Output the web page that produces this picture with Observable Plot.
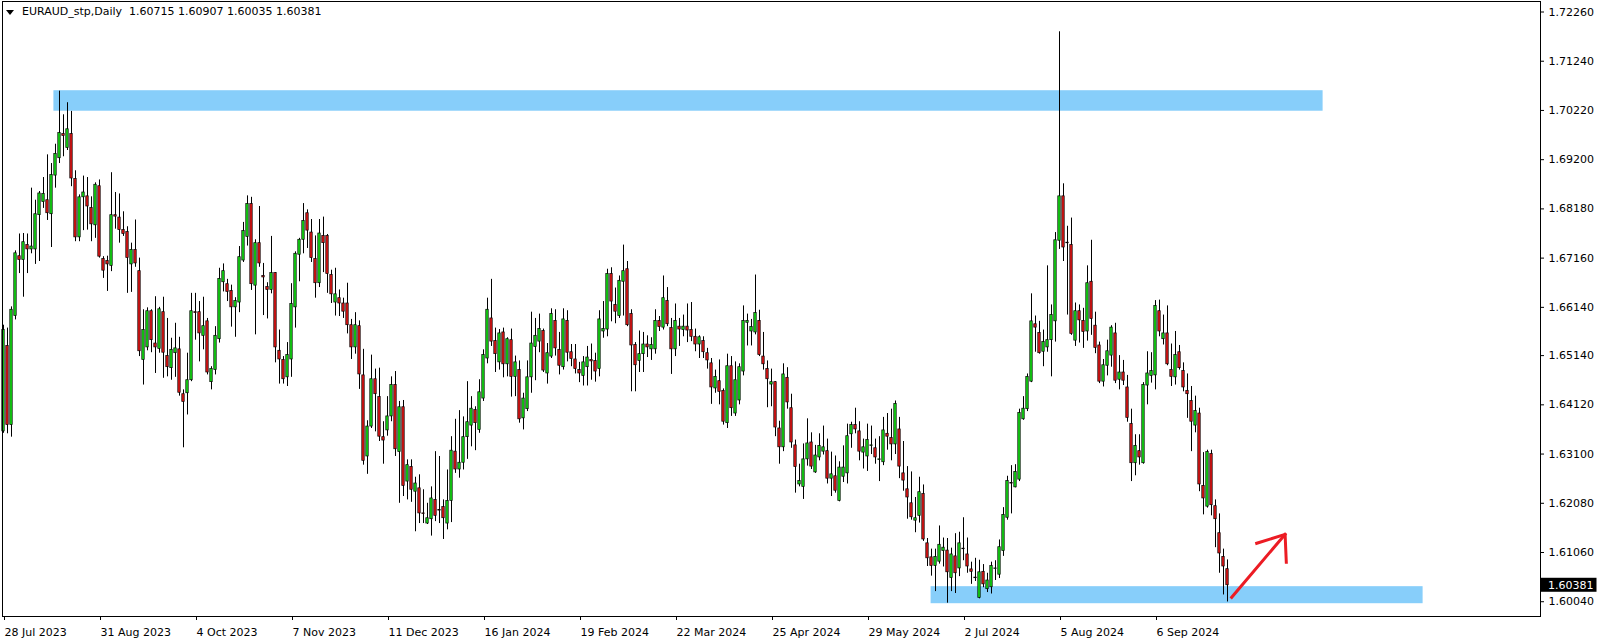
<!DOCTYPE html>
<html><head><meta charset="utf-8">
<script src="https://cdn.jsdelivr.net/npm/d3@7"></script>
<script src="https://cdn.jsdelivr.net/npm/@observablehq/plot@0.6"></script>
<style>
html,body{margin:0;padding:0;background:#fff;}
#wrap{position:relative;width:1604px;height:644px;overflow:hidden;}
#tri{position:absolute;left:6px;top:10px;width:0;height:0;border-left:4.5px solid transparent;border-right:4.5px solid transparent;border-top:5px solid #000;}
#title{position:absolute;left:22px;top:5px;font:11px "DejaVu Sans";color:#000;white-space:pre;}
</style></head><body>
<div id="wrap"><div id="tri"></div><div id="title">EURAUD_stp,Daily  1.60715 1.60907 1.60035 1.60381</div></div>
<script>
const opens=[
1.6357,1.6534,1.6370,1.6596,1.6720,1.6712,1.6743,1.6734,1.6734,1.6805,
1.6832,1.6836,1.6807,1.6887,1.6923,1.6973,1.6944,1.6973,1.6880,1.6759,
1.6842,1.6844,1.6820,1.6784,1.6865,1.6714,1.6710,1.6700,1.6805,1.6800,
1.6774,1.6770,1.6703,1.6733,1.6689,1.6505,1.6531,1.6606,1.6539,1.6528,
1.6604,1.6513,1.6488,1.6519,1.6527,1.6434,1.6436,1.6463,1.6604,1.6604,
1.6555,1.6585,1.6459,1.6484,1.6548,1.6666,1.6662,1.6648,1.6614,1.6624,
1.6711,1.6760,1.6828,1.6659,1.6747,1.6679,1.6656,1.6650,1.6685,1.6524,
1.6505,1.6469,1.6506,1.6614,1.6723,1.6754,1.6809,1.6769,1.6714,1.6664,
1.6762,1.6762,1.6681,1.6624,1.6633,1.6622,1.6622,1.6577,1.6531,1.6575,
1.6473,1.6305,1.6367,1.6465,1.6428,1.6345,1.6359,1.6388,1.6453,1.6314,
1.6407,1.6253,1.6283,1.6232,1.6239,1.6187,1.6166,1.6175,1.6215,1.6194,
1.6200,1.6166,1.6213,1.6315,1.6278,1.6292,1.6345,1.6369,1.6401,1.6360,
1.6425,1.6508,1.6591,1.6544,1.6500,1.6562,1.6496,1.6546,1.6470,1.6484,
1.6384,1.6403,1.6469,1.6532,1.6543,1.6565,1.6477,1.6512,1.6586,1.6526,
1.6490,1.6586,1.6521,1.6506,1.6484,1.6472,1.6490,1.6505,1.6503,1.6486,
1.6564,1.6568,1.6683,1.6619,1.6596,1.6667,1.6693,1.6600,1.6536,1.6503,
1.6517,1.6537,1.6527,1.6527,1.6586,1.6572,1.6627,1.6571,1.6527,1.6574,
1.6567,1.6574,1.6567,1.6553,1.6537,1.6544,1.6519,1.6498,1.6446,1.6461,
1.6441,1.6374,1.6492,1.6394,1.6421,1.6481,1.6582,1.6564,1.6562,1.6586,
1.6512,1.6486,1.6454,1.6459,1.6363,1.6324,1.6468,1.6405,1.6328,1.6247,
1.6242,1.6299,1.6334,1.6272,1.6303,1.6315,1.6316,1.6259,1.6264,1.6213,
1.6263,1.6270,1.6351,1.6370,1.6357,1.6313,1.6305,1.6328,1.6322,1.6299,
1.6293,1.6352,1.6343,1.6330,1.6361,1.6270,1.6237,1.6208,1.6172,1.6182,
1.6227,1.6125,1.6096,1.6078,1.6087,1.6109,1.6110,1.6053,1.6098,1.6073,
1.6114,1.6102,1.6071,1.6054,1.6012,1.6066,1.6030,1.6034,1.6072,1.6060,
1.6109,1.6178,1.6250,1.6241,1.6257,1.6382,1.6403,1.6460,1.6579,1.6561,
1.6522,1.6531,1.6546,1.6585,1.6752,1.6844,1.6748,1.6743,1.6545,1.6606,
1.6586,1.6564,1.6667,1.6576,1.6535,1.6460,1.6493,1.6514,1.6560,1.6464,
1.6479,1.6448,1.6372,1.6291,1.6316,1.6291,1.6452,1.6472,1.6473,1.6606,
1.6548,1.6560,1.6484,1.6469,1.6521,1.6482,1.6441,1.6420,1.6369,1.6394,
1.6244,1.6201,1.6310,1.6202,1.6146,1.6097,1.60715];
const highs=[
1.6577,1.6571,1.6615,1.6731,1.6766,1.6767,1.6766,1.6861,1.6836,1.6854,
1.6883,1.6930,1.6912,1.6952,1.7062,1.7013,1.7038,1.7020,1.6897,1.6847,
1.6886,1.6883,1.6843,1.6872,1.6878,1.6719,1.6720,1.6893,1.6852,1.6849,
1.6812,1.6781,1.6747,1.6795,1.6716,1.6609,1.6613,1.6609,1.6636,1.6614,
1.6635,1.6591,1.6550,1.6581,1.6552,1.6443,1.6519,1.6643,1.6643,1.6626,
1.6635,1.6591,1.6491,1.6574,1.6695,1.6704,1.6672,1.6660,1.6634,1.6740,
1.6790,1.6845,1.6842,1.6754,1.6823,1.6705,1.6665,1.6761,1.6686,1.6567,
1.6512,1.6541,1.6663,1.6729,1.6757,1.6829,1.6816,1.6796,1.6762,1.6796,
1.6801,1.6765,1.6691,1.6695,1.6650,1.6633,1.6664,1.6589,1.6603,1.6586,
1.6527,1.6379,1.6515,1.6486,1.6488,1.6377,1.6429,1.6470,1.6481,1.6419,
1.6421,1.6298,1.6298,1.6262,1.6267,1.6236,1.6208,1.6242,1.6315,1.6305,
1.6215,1.6277,1.6346,1.6382,1.6400,1.6387,1.6460,1.6429,1.6408,1.6464,
1.6526,1.6633,1.6672,1.6571,1.6568,1.6571,1.6551,1.6569,1.6513,1.6503,
1.6436,1.6503,1.6604,1.6591,1.6600,1.6569,1.6539,1.6611,1.6609,1.6562,
1.6611,1.6607,1.6537,1.6537,1.6500,1.6512,1.6533,1.6538,1.6519,1.6607,
1.6626,1.6693,1.6696,1.6654,1.6679,1.6743,1.6709,1.6609,1.6541,1.6565,
1.6562,1.6555,1.6551,1.6609,1.6595,1.6679,1.6655,1.6591,1.6621,1.6591,
1.6598,1.6621,1.6624,1.6569,1.6555,1.6553,1.6529,1.6508,1.6484,1.6505,
1.6445,1.6517,1.6512,1.6501,1.6497,1.6617,1.6600,1.6589,1.6681,1.6608,
1.6562,1.6503,1.6486,1.6460,1.6378,1.6497,1.6489,1.6434,1.6339,1.6289,
1.6331,1.6383,1.6354,1.6328,1.6352,1.6368,1.6341,1.6314,1.6306,1.6294,
1.6327,1.6372,1.6376,1.6405,1.6377,1.6341,1.6372,1.6368,1.6341,1.6346,
1.6386,1.6394,1.6403,1.6420,1.6386,1.6336,1.6284,1.6273,1.6220,1.6262,
1.6246,1.6135,1.6113,1.6113,1.6161,1.6136,1.6135,1.6115,1.6145,1.6148,
1.6178,1.6136,1.6086,1.6094,1.6090,1.6081,1.6063,1.6086,1.6089,1.6132,
1.6199,1.6264,1.6286,1.6288,1.6403,1.6429,1.6476,1.6642,1.6596,1.6585,
1.6567,1.6700,1.6619,1.6769,1.7185,1.6870,1.6782,1.6799,1.6623,1.6619,
1.6612,1.6700,1.6753,1.6604,1.6542,1.6506,1.6546,1.6576,1.6581,1.6514,
1.6504,1.6473,1.6403,1.6350,1.6350,1.6458,1.6522,1.6520,1.6628,1.6629,
1.6598,1.6617,1.6538,1.6564,1.6535,1.6499,1.6476,1.6450,1.6430,1.6405,
1.6313,1.6318,1.6318,1.6215,1.6186,1.6113,1.60907];
const lows=[
1.6353,1.6352,1.6345,1.6588,1.6684,1.6635,1.6684,1.6725,1.6703,1.6709,
1.6819,1.6794,1.6738,1.6861,1.6912,1.6926,1.6939,1.6864,1.6750,1.6750,
1.6773,1.6774,1.6750,1.6757,1.6716,1.6674,1.6647,1.6688,1.6776,1.6747,
1.6761,1.6643,1.6645,1.6697,1.6512,1.6453,1.6524,1.6520,1.6477,1.6519,
1.6467,1.6470,1.6463,1.6469,1.6430,1.6323,1.6391,1.6460,1.6546,1.6501,
1.6526,1.6474,1.6443,1.6474,1.6540,1.6646,1.6626,1.6573,1.6552,1.6603,
1.6707,1.6741,1.6649,1.6557,1.6697,1.6597,1.6590,1.6642,1.6499,1.6455,
1.6455,1.6450,1.6469,1.6571,1.6667,1.6725,1.6736,1.6707,1.6633,1.6655,
1.6686,1.6643,1.6622,1.6596,1.6595,1.6591,1.6559,1.6506,1.6517,1.6444,
1.6287,1.6268,1.6363,1.6356,1.6336,1.6289,1.6347,1.6377,1.6305,1.6208,
1.6222,1.6215,1.6210,1.6149,1.6166,1.6166,1.6164,1.6140,1.6170,1.6166,
1.6133,1.6153,1.6168,1.6270,1.6260,1.6277,1.6299,1.6325,1.6317,1.6353,
1.6419,1.6497,1.6533,1.6479,1.6484,1.6468,1.6470,1.6428,1.6429,1.6374,
1.6360,1.6398,1.6436,1.6462,1.6520,1.6479,1.6455,1.6508,1.6513,1.6474,
1.6484,1.6501,1.6491,1.6476,1.6458,1.6451,1.6451,1.6463,1.6459,1.6470,
1.6550,1.6553,1.6584,1.6580,1.6591,1.6596,1.6574,1.6439,1.6439,1.6479,
1.6479,1.6510,1.6504,1.6517,1.6564,1.6567,1.6574,1.6475,1.6512,1.6533,
1.6553,1.6541,1.6543,1.6522,1.6508,1.6508,1.6486,1.6413,1.6436,1.6412,
1.6370,1.6363,1.6388,1.6388,1.6412,1.6472,1.6534,1.6534,1.6557,1.6512,
1.6484,1.6406,1.6408,1.6346,1.6289,1.6315,1.6403,1.6322,1.6229,1.6242,
1.6216,1.6285,1.6278,1.6270,1.6296,1.6308,1.6248,1.6222,1.6229,1.6211,
1.6251,1.6248,1.6322,1.6352,1.6296,1.6279,1.6274,1.6309,1.6289,1.6253,
1.6286,1.6318,1.6296,1.6309,1.6259,1.6233,1.6175,1.6173,1.6147,1.6167,
1.6129,1.6077,1.6057,1.6025,1.6082,1.6076,1.6001,1.6025,1.6021,1.6056,
1.6089,1.6063,1.6040,1.6046,1.6010,1.6033,1.6023,1.6020,1.6048,1.6052,
1.6098,1.6173,1.6186,1.6240,1.6253,1.6380,1.6398,1.6458,1.6521,1.6517,
1.6491,1.6521,1.6470,1.6542,1.6734,1.6709,1.6598,1.6556,1.6533,1.6540,
1.6529,1.6544,1.6556,1.6518,1.6456,1.6449,1.6472,1.6490,1.6456,1.6443,
1.6452,1.6376,1.6253,1.6265,1.6287,1.6289,1.6412,1.6457,1.6443,1.6553,
1.6536,1.6493,1.6450,1.6453,1.6484,1.6439,1.6384,1.6315,1.6354,1.6232,
1.6184,1.6198,1.6182,1.6116,1.6063,1.6018,1.60035];
const closes=[
1.6567,1.6370,1.6609,1.6726,1.6712,1.6749,1.6734,1.6740,1.6807,1.6850,
1.6849,1.6809,1.6888,1.6932,1.6975,1.6969,1.6983,1.6881,1.6759,1.6842,
1.6852,1.6823,1.6786,1.6868,1.6719,1.6690,1.6703,1.6805,1.6802,1.6774,
1.6766,1.6716,1.6733,1.6705,1.6523,1.6567,1.6606,1.6546,1.6531,1.6610,
1.6520,1.6490,1.6526,1.6529,1.6437,1.6418,1.6463,1.6606,1.6602,1.6560,
1.6575,1.6479,1.6486,1.6555,1.6673,1.6689,1.6646,1.6614,1.6627,1.6718,
1.6772,1.6828,1.6662,1.6747,1.6705,1.6676,1.6650,1.6685,1.6531,1.6506,
1.6465,1.6515,1.6621,1.6725,1.6754,1.6793,1.6773,1.6716,1.6664,1.6767,
1.6747,1.6683,1.6641,1.6641,1.6622,1.6605,1.6577,1.6531,1.6577,1.6475,
1.6296,1.6367,1.6465,1.6434,1.6346,1.6338,1.6388,1.6453,1.6320,1.6407,
1.6244,1.6287,1.6236,1.6249,1.6187,1.6186,1.6177,1.6218,1.6182,1.6193,
1.6177,1.6213,1.6317,1.6278,1.6292,1.6345,1.6376,1.6404,1.6374,1.6438,
1.6515,1.6609,1.6543,1.6517,1.6560,1.6496,1.6548,1.6470,1.6500,1.6382,
1.6425,1.6469,1.6539,1.6555,1.6569,1.6483,1.6519,1.6600,1.6529,1.6493,
1.6589,1.6520,1.6507,1.6486,1.6477,1.6500,1.6510,1.6502,1.6481,1.6589,
1.6569,1.6683,1.6626,1.6605,1.6669,1.6689,1.6577,1.6535,1.6494,1.6517,
1.6537,1.6531,1.6536,1.6586,1.6573,1.6633,1.6579,1.6527,1.6586,1.6568,
1.6574,1.6566,1.6553,1.6537,1.6552,1.6521,1.6504,1.6448,1.6470,1.6439,
1.6377,1.6492,1.6405,1.6463,1.6490,1.6586,1.6586,1.6573,1.6602,1.6515,
1.6496,1.6465,1.6459,1.6365,1.6324,1.6475,1.6417,1.6334,1.6283,1.6254,
1.6299,1.6332,1.6284,1.6307,1.6327,1.6324,1.6259,1.6268,1.6234,1.6282,
1.6282,1.6347,1.6370,1.6361,1.6315,1.6324,1.6339,1.6328,1.6303,1.6299,
1.6359,1.6346,1.6330,1.6414,1.6284,1.6255,1.6220,1.6179,1.6177,1.6231,
1.6133,1.6094,1.6078,1.6097,1.6122,1.6116,1.6065,1.6102,1.6063,1.6125,
1.6113,1.6077,1.6066,1.6053,1.6065,1.6040,1.6048,1.6078,1.6073,1.6117,
1.6184,1.6254,1.6249,1.6273,1.6395,1.6404,1.6470,1.6585,1.6572,1.6519,
1.6542,1.6546,1.6598,1.6753,1.6844,1.6738,1.6747,1.6559,1.6606,1.6587,
1.6563,1.6664,1.6590,1.6530,1.6460,1.6494,1.6523,1.6572,1.6462,1.6479,
1.6462,1.6385,1.6291,1.6327,1.6303,1.6453,1.6477,1.6482,1.6617,1.6564,
1.6560,1.6496,1.6470,1.6515,1.6488,1.6448,1.6434,1.6377,1.6399,1.6247,
1.6218,1.6314,1.6204,1.6175,1.6104,1.6077,1.60381];

const dateTickIndex=[0,24,48,72,96,120,144,168,192,216,240,264,288];
const dateTickLabels=["28 Jul 2023","31 Aug 2023","4 Oct 2023","7 Nov 2023","11 Dec 2023","16 Jan 2024","19 Feb 2024","22 Mar 2024","25 Apr 2024","29 May 2024","2 Jul 2024","5 Aug 2024","6 Sep 2024"];
const priceTicks=[1.72260,1.71240,1.70220,1.69200,1.68180,1.67160,1.66140,1.65140,1.64120,1.63100,1.62080,1.61060,1.60040];
const lastPrice=1.60381;

const zoneX1=[12.6,231.9], zoneX2=[329.9,354.9];
const zoneY1=[1.70204,1.59999], zoneY2=[1.70629,1.60352];

const arrowShaftX=[307.05,320.4], arrowShaftY=[1.60132,1.61437];
const arrowHeadX=[313.3,320.4,320.7], arrowHeadY=[1.61251,1.61437,1.60857];

const bars=opens.map((o,i)=>({i,o,h:highs[i],l:lows[i],c:closes[i]}));
const zones=zoneX1.map((x,k)=>({x1:x,x2:zoneX2[k],y1:zoneY1[k],y2:zoneY2[k]}));
const arrow=[
  ...arrowShaftX.map((x,k)=>({x,y:arrowShaftY[k],g:"shaft"})),
  ...arrowHeadX.map((x,k)=>({x,y:arrowHeadY[k],g:"head"}))
];
const labelOf=new Map(dateTickIndex.map((d,k)=>[d,dateTickLabels[k]]));
const minBody=0.00012;
const bodyTop=d=>Math.max(d.o,d.c);
const bodyBot=d=>Math.min(bodyTop(d)-minBody,Math.min(d.o,d.c));

const chart=Plot.plot({
  width:1604,height:644,
  marginLeft:2,marginRight:64,marginTop:1,marginBottom:28,
  style:{fontFamily:"DejaVu Sans",fontSize:"11px",background:"#fff",color:"#000",overflow:"visible"},
  x:{domain:[-0.25,384.25]},
  y:{domain:[1.597340,1.724776]},
  marks:[
    Plot.rect(zones,{x1:"x1",x2:"x2",y1:"y1",y2:"y2",fill:"#87cefa"}),
    Plot.ruleX(bars,{x:"i",y1:"l",y2:"h",stroke:"#000",strokeWidth:1}),
    Plot.rect(bars,{x1:d=>d.i-0.3,x2:d=>d.i+0.3,y1:bodyBot,y2:bodyTop,
      fill:d=>d.c>=d.o?"#14dc14":"#e01414",stroke:"#000",strokeWidth:0.7}),
    Plot.line(arrow,{x:"x",y:"y",z:"g",stroke:"#ec1c24",strokeWidth:3,strokeLinecap:"square"}),
    Plot.frame({stroke:"#000"}),
    Plot.axisX({ticks:dateTickIndex,tickFormat:d=>labelOf.get(d),tickSize:4,tickPadding:8,textAnchor:"start",dx:1,fontSize:11}),
    Plot.axisY({anchor:"right",ticks:priceTicks,tickFormat:d=>d.toFixed(5),tickSize:3,tickPadding:5,fontSize:11}),
    Plot.rect([lastPrice],{x1:384.375,x2:398.375,y1:d=>d-0.00145,y2:d=>d+0.00145,fill:"#000"}),
    Plot.text([lastPrice],{x:386.1,y:d=>d,text:d=>d.toFixed(5),fill:"#fff",textAnchor:"start",fontSize:11})
  ]
});
chart.style.position="absolute";chart.style.left="0";chart.style.top="0";
const wrap=document.getElementById("wrap");
wrap.insertBefore(chart,wrap.firstChild);
</script>
</body></html>
